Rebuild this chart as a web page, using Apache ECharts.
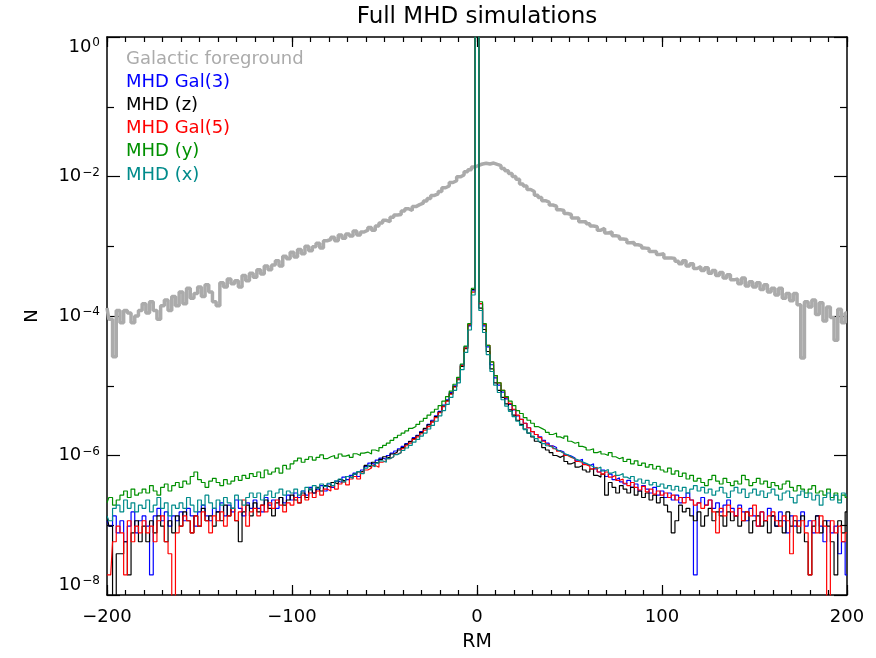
<!DOCTYPE html>
<html><head><meta charset="utf-8">
<script src="https://cdn.jsdelivr.net/npm/echarts@6/dist/echarts.min.js"></script>
<style>html,body{margin:0;padding:0;background:#fff}#c{width:876px;height:658px}</style>
</head><body><div id="c"></div>
<script>
// Histogram bins: centres from -200 to 200, width 2 (RM)
const rmStart = -200, rmStep = 2;

const galactic = [
1.3e-4, 9e-5, 2.6e-5, 1.2e-4, 8e-5, 1.2e-4, 1.1e-4, 8e-5, 1.0e-4, 1.2e-4,
1.5e-4, 1.1e-4, 1.6e-4, 1.2e-4, 9e-5, 1.4e-4, 1.7e-4, 1.2e-4, 1.9e-4, 1.4e-4,
2.2e-4, 1.5e-4, 2.5e-4, 1.8e-4, 2.1e-4, 2.6e-4, 1.9e-4, 2.8e-4, 2.2e-4, 1.6e-4,
1.4e-4, 3.0e-4, 2.6e-4, 3.4e-4, 2.9e-4, 3.2e-4, 2.6e-4, 3.8e-4, 3.2e-4, 4.1e-4,
3.6e-4, 4.6e-4, 4.0e-4, 5.2e-4, 4.6e-4, 5.4e-4, 6.2e-4, 5.2e-4, 7.2e-4, 6.6e-4,
8.2e-4, 7.0e-4, 9.0e-4, 7.8e-4, 1.0e-3, 8.6e-4, 9.8e-4, 1.1e-3, 9.4e-4, 1.2e-3,
1.25e-3, 1.35e-3, 1.2e-3, 1.45e-3, 1.3e-3, 1.5e-3, 1.4e-3, 1.65e-3, 1.45e-3, 1.6e-3,
1.7e-3, 1.85e-3, 1.7e-3, 1.95e-3, 2.15e-3, 2.35e-3, 2.25e-3, 2.6e-3, 2.8e-3, 2.85e-3,
3.2e-3, 3.45e-3, 3.25e-3, 3.7e-3, 3.95e-3, 4.15e-3, 4.45e-3, 4.85e-3, 5.35e-3, 5.65e-3,
6.1e-3, 6.9e-3, 7.3e-3, 8.2e-3, 8.7e-3, 9.9e-3, 1.05e-2, 1.17e-2, 1.25e-2, 1.37e-2,
1.45e-2, 1.51e-2, 1.55e-2, 1.51e-2, 1.56e-2, 1.49e-2, 1.43e-2, 1.3e-2, 1.21e-2, 1.1e-2,
1.0e-2, 9.1e-3, 7.8e-3, 7.3e-3, 6.5e-3, 6.1e-3, 5.4e-3, 5.0e-3, 4.5e-3, 4.3e-3,
3.9e-3, 3.75e-3, 3.35e-3, 3.25e-3, 2.95e-3, 2.85e-3, 2.55e-3, 2.55e-3, 2.25e-3, 2.25e-3,
2.1e-3, 1.95e-3, 1.9e-3, 1.7e-3, 1.8e-3, 1.55e-3, 1.6e-3, 1.42e-3, 1.38e-3, 1.27e-3,
1.25e-3, 1.12e-3, 1.13e-3, 1.05e-3, 1.02e-3, 9.4e-4, 9.3e-4, 8.4e-4, 8.4e-4, 7.6e-4,
7.8e-4, 6.8e-4, 6.8e-4, 6.7e-4, 6.1e-4, 5.6e-4, 6.2e-4, 5.2e-4, 5.6e-4, 4.8e-4,
5.1e-4, 4.5e-4, 4.9e-4, 4.1e-4, 4.5e-4, 3.8e-4, 4.2e-4, 3.5e-4, 3.9e-4, 3.3e-4,
3.4e-4, 2.9e-4, 3.5e-4, 2.7e-4, 3.1e-4, 2.6e-4, 3.0e-4, 2.4e-4, 2.8e-4, 2.2e-4,
2.5e-4, 2.0e-4, 2.5e-4, 1.8e-4, 2.1e-4, 1.65e-4, 2.1e-4, 1.45e-4, 2.5e-5, 1.6e-4,
1.35e-4, 1.7e-4, 1.05e-4, 1.55e-4, 8.5e-5, 1.35e-4, 9.5e-5, 4.5e-5, 1.25e-4, 8.0e-5,
1.1e-4
];

const mhdGal3 = [
1.16e-7, 9.7e-8, 1.36e-7, 7.8e-8, 1.16e-7, 5.8e-8, 9.7e-8, 1.55e-7, 7.8e-8, 1.16e-7,
1.36e-7, 9.7e-8, 1.94e-8, 1.36e-7, 1.75e-7, 1.16e-7, 1.55e-7, 9.7e-8, 1.36e-7, 1.16e-7,
1.55e-7, 1.16e-7, 1.75e-7, 1.36e-7, 9.7e-8, 1.55e-7, 1.94e-7, 1.36e-7, 1.16e-7, 1.75e-7,
1.55e-7, 2.1e-7, 1.36e-7, 1.94e-7, 1.55e-7, 2.3e-7, 1.75e-7, 1.36e-7, 2.1e-7, 1.75e-7,
2.3e-7, 1.75e-7, 1.55e-7, 2.5e-7, 1.94e-7, 2.3e-7, 1.75e-7, 2.5e-7, 2.1e-7, 2.7e-7,
2.3e-7, 2.9e-7, 2.5e-7, 3.1e-7, 2.7e-7, 3.5e-7, 2.9e-7, 3.3e-7, 3.7e-7, 3.1e-7,
3.9e-7, 3.5e-7, 4.3e-7, 4.1e-7, 4.9e-7, 4.5e-7, 5.2e-7, 5.6e-7, 5.0e-7, 6.2e-7,
7.0e-7, 7.8e-7, 7.4e-7, 8.6e-7, 9.2e-7, 8.8e-7, 1.0e-6, 1.08e-6, 1.16e-6, 1.25e-6,
1.35e-6, 1.48e-6, 1.6e-6, 1.8e-6, 1.95e-6, 2.2e-6, 2.4e-6, 2.8e-6, 3.2e-6, 3.7e-6,
4.3e-6, 5.3e-6, 6.3e-6, 8.0e-6, 1.0e-5, 1.28e-5, 2.0e-5, 3.6e-5, 7.2e-5, 2.3e-4,
2, 1.5e-4, 7.2e-5, 3.6e-5, 2.0e-5, 1.3e-5, 1.02e-5, 8.1e-6, 6.5e-6, 5.4e-6,
4.5e-6, 3.7e-6, 3.3e-6, 2.9e-6, 2.5e-6, 2.2e-6, 2.0e-6, 1.85e-6, 1.65e-6, 1.5e-6,
1.38e-6, 1.3e-6, 1.18e-6, 1.12e-6, 1.02e-6, 9.8e-7, 9.2e-7, 8.4e-7, 8.8e-7, 7.6e-7,
7.2e-7, 7.6e-7, 6.4e-7, 5.8e-7, 6.2e-7, 5.0e-7, 5.4e-7, 4.5e-7, 4.8e-7, 4.2e-7,
3.9e-7, 4.4e-7, 3.5e-7, 3.9e-7, 3.1e-7, 3.7e-7, 3.3e-7, 2.9e-7, 3.5e-7, 2.7e-7,
3.1e-7, 2.5e-7, 2.9e-7, 2.3e-7, 2.7e-7, 2.1e-7, 2.5e-7, 2.9e-7, 2.3e-7, 1.94e-8,
2.1e-7, 2.5e-7, 1.94e-7, 2.3e-7, 1.75e-7, 2.1e-7, 1.55e-7, 1.94e-7, 2.3e-7, 1.75e-7,
1.36e-7, 1.94e-7, 1.55e-7, 1.16e-7, 1.75e-7, 1.36e-7, 9.7e-8, 1.55e-7, 1.16e-7, 1.75e-7,
1.36e-7, 9.7e-8, 1.55e-7, 1.16e-7, 7.8e-8, 1.36e-7, 9.7e-8, 1.16e-7, 1.55e-7, 9.7e-8,
1.16e-7, 7.8e-8, 1.36e-7, 9.7e-8, 5.8e-8, 1.16e-7, 7.8e-8, 9.7e-8, 3.9e-8, 5.8e-8,
1.94e-8
];

// 1e-9 marks empty bins (drawn down through the bottom of the frame)
const mhdZ = [
1.36e-7, 9.7e-8, 1e-9, 3.9e-8, 3.9e-8, 5.8e-8, 1.94e-8, 7.8e-8, 1.16e-7, 5.8e-8,
9.7e-8, 5.8e-8, 1.16e-7, 7.8e-8, 1.36e-7, 9.7e-8, 5.8e-8, 1.16e-7, 7.8e-8, 1.36e-7,
9.7e-8, 1.55e-7, 1.16e-7, 7.8e-8, 1.36e-7, 9.7e-8, 1.75e-7, 1.16e-7, 1.36e-7, 9.7e-8,
1.55e-7, 1.16e-7, 1.94e-7, 1.36e-7, 1.75e-7, 1.16e-7, 5.8e-8, 1.55e-7, 1.94e-7, 1.36e-7,
2.1e-7, 1.55e-7, 1.94e-7, 2.3e-7, 1.75e-7, 1.36e-7, 2.1e-7, 2.5e-7, 1.94e-7, 2.3e-7,
2.7e-7, 2.3e-7, 2.1e-7, 2.9e-7, 2.5e-7, 3.3e-7, 2.9e-7, 3.5e-7, 3.1e-7, 3.7e-7,
3.5e-7, 4.1e-7, 3.9e-7, 4.5e-7, 4.3e-7, 5.0e-7, 4.8e-7, 5.4e-7, 5.8e-7, 6.0e-7,
7.2e-7, 6.8e-7, 8.0e-7, 7.8e-7, 8.8e-7, 9.6e-7, 9.2e-7, 1.05e-6, 1.12e-6, 1.2e-6,
1.3e-6, 1.45e-6, 1.58e-6, 1.75e-6, 1.92e-6, 2.15e-6, 2.45e-6, 2.75e-6, 3.1e-6, 3.6e-6,
4.2e-6, 5.1e-6, 6.1e-6, 7.7e-6, 9.7e-6, 1.22e-5, 1.9e-5, 3.4e-5, 7.5e-5, 2.4e-4,
2, 1.3e-4, 6.4e-5, 3.1e-5, 1.75e-5, 1.1e-5, 8.6e-6, 6.8e-6, 5.5e-6, 4.5e-6,
3.8e-6, 3.2e-6, 2.8e-6, 2.4e-6, 2.1e-6, 1.85e-6, 1.6e-6, 1.5e-6, 1.3e-6, 1.2e-6,
1.1e-6, 1.0e-6, 9.4e-7, 1.0e-6, 8.2e-7, 7.6e-7, 8.0e-7, 6.8e-7, 7.2e-7, 6.2e-7,
5.8e-7, 6.4e-7, 5.2e-7, 4.9e-7, 5.4e-7, 2.7e-7, 4.1e-7, 3.5e-7, 2.9e-7, 3.7e-7,
3.3e-7, 2.9e-7, 3.5e-7, 2.7e-7, 3.1e-7, 2.5e-7, 2.9e-7, 2.3e-7, 2.7e-7, 2.1e-7,
2.5e-7, 1.94e-7, 1.55e-7, 7.8e-8, 1.16e-7, 1.94e-7, 1.55e-7, 1.75e-7, 1.36e-7, 1.16e-7,
1.55e-7, 9.7e-8, 1.36e-7, 1.75e-7, 1.16e-7, 1.55e-7, 1.36e-7, 9.7e-8, 1.55e-7, 1.16e-7,
1.36e-7, 9.7e-8, 1.16e-7, 1.55e-7, 7.8e-8, 1.16e-7, 1.36e-7, 9.7e-8, 1.16e-7, 7.8e-8,
1.36e-7, 9.7e-8, 1.16e-7, 7.8e-8, 1.55e-7, 9.7e-8, 1.16e-7, 7.8e-8, 1.36e-7, 5.8e-8,
1.94e-8, 9.7e-8, 1.36e-7, 7.8e-8, 1.16e-7, 9.7e-8, 5.8e-8, 1.94e-8, 1.16e-7, 7.8e-8,
1.55e-7
];

const mhdGal5 = [
1.94e-8, 1.94e-8, 5.8e-8, 9.7e-8, 7.8e-8, 1.94e-8, 1.16e-7, 5.8e-8, 9.7e-8, 7.8e-8,
1.16e-7, 7.8e-8, 9.7e-8, 5.8e-8, 1.16e-7, 1.36e-7, 5.8e-8, 3.9e-8, 1e-9, 7.8e-8,
9.7e-8, 1.36e-7, 1.16e-7, 7.8e-8, 1.36e-7, 9.7e-8, 1.55e-7, 1.16e-7, 7.8e-8, 1.36e-7,
1.16e-7, 1.55e-7, 9.7e-8, 1.36e-7, 1.75e-7, 1.16e-7, 1.55e-7, 2.3e-7, 9.7e-8, 1.55e-7,
1.75e-7, 1.36e-7, 1.94e-7, 1.55e-7, 2.1e-7, 1.75e-7, 2.3e-7, 1.94e-7, 1.55e-7, 2.1e-7,
1.94e-7, 2.5e-7, 2.1e-7, 2.7e-7, 2.3e-7, 2.9e-7, 2.5e-7, 3.1e-7, 2.7e-7, 3.3e-7,
3.1e-7, 3.7e-7, 3.3e-7, 3.9e-7, 4.2e-7, 3.8e-7, 4.6e-7, 5.0e-7, 4.6e-7, 5.6e-7,
6.2e-7, 6.6e-7, 7.2e-7, 6.8e-7, 8.0e-7, 8.4e-7, 9.0e-7, 9.6e-7, 1.04e-6, 1.1e-6,
1.25e-6, 1.38e-6, 1.5e-6, 1.7e-6, 1.85e-6, 2.05e-6, 2.3e-6, 2.6e-6, 3.0e-6, 3.5e-6,
4.1e-6, 5.0e-6, 6.0e-6, 7.6e-6, 9.6e-6, 1.25e-5, 1.95e-5, 3.5e-5, 7.5e-5, 2.2e-4,
2, 1.5e-4, 7.6e-5, 3.8e-5, 2.2e-5, 1.4e-5, 1.1e-5, 8.6e-6, 6.8e-6, 5.6e-6,
4.6e-6, 3.8e-6, 3.3e-6, 2.9e-6, 2.5e-6, 2.2e-6, 2.0e-6, 1.8e-6, 1.6e-6, 1.45e-6,
1.35e-6, 1.25e-6, 1.15e-6, 1.08e-6, 1.0e-6, 9.4e-7, 9.0e-7, 8.2e-7, 8.0e-7, 7.4e-7,
7.0e-7, 6.4e-7, 6.8e-7, 5.8e-7, 5.4e-7, 5.8e-7, 4.9e-7, 5.2e-7, 4.4e-7, 4.6e-7,
4.0e-7, 3.7e-7, 4.1e-7, 3.5e-7, 3.2e-7, 3.6e-7, 3.0e-7, 3.3e-7, 2.8e-7, 3.1e-7,
2.7e-7, 2.9e-7, 2.5e-7, 2.7e-7, 2.3e-7, 2.5e-7, 2.1e-7, 2.5e-7, 2.3e-7, 1.94e-7,
2.1e-7, 1.75e-7, 1.94e-7, 2.3e-7, 1.55e-7, 7.8e-8, 1.75e-7, 1.36e-7, 1.94e-7, 1.55e-7,
1.36e-7, 1.75e-7, 1.16e-7, 1.55e-7, 1.36e-7, 1.94e-7, 9.7e-8, 1.55e-7, 1.16e-7, 1.36e-7,
1.55e-7, 1.16e-7, 9.7e-8, 1.36e-7, 1.16e-7, 3.9e-8, 1.36e-7, 9.7e-8, 1.16e-7, 7.8e-8,
1.94e-8, 1.16e-7, 7.8e-8, 1.36e-7, 9.7e-8, 1e-9, 1.16e-7, 7.8e-8, 9.7e-8, 5.8e-8,
7.8e-8
];

const mhdY = [
2.1e-7, 2.5e-7, 1.94e-7, 2.3e-7, 2.7e-7, 3.1e-7, 2.5e-7, 3.3e-7, 2.7e-7, 2.9e-7,
3.3e-7, 2.9e-7, 3.7e-7, 3.1e-7, 2.7e-7, 3.5e-7, 3.9e-7, 3.1e-7, 3.7e-7, 4.1e-7,
3.5e-7, 4.3e-7, 3.9e-7, 5.0e-7, 5.8e-7, 4.5e-7, 4.1e-7, 3.5e-7, 4.3e-7, 4.7e-7,
4.1e-7, 3.7e-7, 4.5e-7, 3.9e-7, 4.3e-7, 5.0e-7, 4.4e-7, 5.2e-7, 4.7e-7, 5.5e-7,
5.0e-7, 5.8e-7, 4.8e-7, 6.2e-7, 5.4e-7, 5.8e-7, 6.6e-7, 5.6e-7, 7.2e-7, 6.4e-7,
7.6e-7, 8.4e-7, 9.2e-7, 8.0e-7, 8.8e-7, 9.6e-7, 8.6e-7, 9.4e-7, 1.02e-6, 9.0e-7,
9.6e-7, 1.0e-6, 9.2e-7, 1.05e-6, 9.8e-7, 1.02e-6, 9.4e-7, 1.06e-6, 1.0e-6, 1.08e-6,
1.12e-6, 1.05e-6, 1.2e-6, 1.15e-6, 1.3e-6, 1.4e-6, 1.5e-6, 1.65e-6, 1.8e-6, 1.95e-6,
2.1e-6, 2.25e-6, 2.45e-6, 2.6e-6, 2.8e-6, 3.1e-6, 3.4e-6, 3.8e-6, 4.2e-6, 4.6e-6,
5.2e-6, 6.0e-6, 7.0e-6, 8.4e-6, 1.05e-5, 1.32e-5, 2.05e-5, 3.7e-5, 7.8e-5, 2.5e-4,
2, 1.6e-4, 7.8e-5, 3.8e-5, 2.2e-5, 1.4e-5, 1.1e-5, 8.6e-6, 7.0e-6, 6.0e-6,
5.2e-6, 4.4e-6, 4.0e-6, 3.5e-6, 3.2e-6, 2.9e-6, 2.6e-6, 2.45e-6, 2.3e-6, 2.15e-6,
2.0e-6, 2.1e-6, 1.85e-6, 1.75e-6, 1.9e-6, 1.6e-6, 1.5e-6, 1.55e-6, 1.35e-6, 1.3e-6,
1.2e-6, 1.25e-6, 1.1e-6, 1.15e-6, 1.05e-6, 1.0e-6, 1.1e-6, 9.6e-7, 9.0e-7, 9.4e-7,
8.2e-7, 8.8e-7, 7.6e-7, 8.4e-7, 7.2e-7, 7.8e-7, 6.8e-7, 7.4e-7, 6.4e-7, 7.0e-7,
6.2e-7, 5.8e-7, 6.6e-7, 5.4e-7, 6.0e-7, 5.0e-7, 5.6e-7, 4.6e-7, 5.2e-7, 4.3e-7,
4.7e-7, 4.1e-7, 3.7e-7, 4.5e-7, 5.2e-7, 4.3e-7, 3.9e-7, 4.7e-7, 4.1e-7, 3.7e-7,
4.3e-7, 3.9e-7, 5.2e-7, 4.5e-7, 3.7e-7, 4.1e-7, 4.7e-7, 3.9e-7, 4.3e-7, 3.5e-7,
4.1e-7, 3.7e-7, 3.3e-7, 3.9e-7, 4.3e-7, 3.5e-7, 3.1e-7, 3.7e-7, 3.3e-7, 2.9e-7,
3.3e-7, 3.7e-7, 2.9e-7, 3.1e-7, 2.7e-7, 3.3e-7, 2.5e-7, 2.9e-7, 2.3e-7, 2.7e-7,
2.5e-7
];

const mhdX = [
1.36e-7, 1.16e-7, 1.75e-7, 1.94e-7, 1.55e-7, 2.3e-7, 1.75e-7, 2.1e-7, 1.55e-7, 1.94e-7,
1.75e-7, 2.3e-7, 1.55e-7, 1.94e-7, 2.5e-7, 1.75e-7, 2.1e-7, 1.36e-7, 1.94e-7, 1.75e-7,
2.1e-7, 1.75e-7, 2.5e-7, 1.94e-7, 1.55e-7, 2.3e-7, 1.94e-7, 2.7e-7, 2.1e-7, 1.75e-7,
2.3e-7, 1.94e-7, 2.5e-7, 2.1e-7, 1.75e-7, 2.7e-7, 2.3e-7, 1.94e-7, 2.5e-7, 2.9e-7,
2.5e-7, 2.9e-7, 2.3e-7, 2.7e-7, 3.1e-7, 2.5e-7, 2.9e-7, 3.3e-7, 2.7e-7, 3.1e-7,
2.9e-7, 3.3e-7, 2.7e-7, 3.1e-7, 3.5e-7, 3.2e-7, 3.7e-7, 3.4e-7, 3.9e-7, 3.6e-7,
4.0e-7, 3.7e-7, 4.3e-7, 4.6e-7, 4.2e-7, 5.0e-7, 4.7e-7, 5.4e-7, 5.9e-7, 5.5e-7,
6.6e-7, 7.2e-7, 6.9e-7, 7.8e-7, 8.4e-7, 8.0e-7, 9.0e-7, 9.6e-7, 1.03e-6, 1.1e-6,
1.18e-6, 1.28e-6, 1.4e-6, 1.55e-6, 1.7e-6, 1.9e-6, 2.1e-6, 2.4e-6, 2.7e-6, 3.1e-6,
3.7e-6, 4.4e-6, 5.4e-6, 6.8e-6, 8.6e-6, 1.1e-5, 1.7e-5, 3.0e-5, 6.3e-5, 2.0e-4,
2, 1.2e-4, 5.8e-5, 2.8e-5, 1.6e-5, 1.02e-5, 8.0e-6, 6.3e-6, 5.1e-6, 4.3e-6,
3.6e-6, 3.1e-6, 2.7e-6, 2.35e-6, 2.1e-6, 1.9e-6, 1.75e-6, 1.6e-6, 1.48e-6, 1.38e-6,
1.3e-6, 1.22e-6, 1.15e-6, 1.08e-6, 1.02e-6, 9.6e-7, 9.0e-7, 8.6e-7, 8.1e-7, 7.7e-7,
7.3e-7, 6.9e-7, 6.5e-7, 6.8e-7, 6.0e-7, 6.3e-7, 5.6e-7, 5.9e-7, 5.2e-7, 5.5e-7,
4.9e-7, 4.6e-7, 5.0e-7, 4.3e-7, 4.6e-7, 4.0e-7, 4.4e-7, 3.8e-7, 4.1e-7, 3.6e-7,
3.9e-7, 3.4e-7, 3.7e-7, 3.2e-7, 3.6e-7, 3.1e-7, 3.5e-7, 2.9e-7, 3.3e-7, 3.7e-7,
3.1e-7, 3.5e-7, 2.9e-7, 3.3e-7, 2.7e-7, 3.1e-7, 3.5e-7, 2.9e-7, 2.5e-7, 3.1e-7,
3.5e-7, 2.9e-7, 3.3e-7, 2.5e-7, 2.9e-7, 3.3e-7, 2.7e-7, 3.1e-7, 2.5e-7, 2.9e-7,
3.3e-7, 2.7e-7, 2.3e-7, 2.9e-7, 3.1e-7, 2.5e-7, 2.1e-7, 2.7e-7, 3.1e-7, 2.5e-7,
2.9e-7, 2.3e-7, 2.7e-7, 1.94e-7, 2.5e-7, 2.9e-7, 2.3e-7, 2.7e-7, 2.1e-7, 2.9e-7,
2.7e-7
];

const seriesNames = ['Galactic foreground', 'MHD Gal(3)', 'MHD (z)', 'MHD Gal(5)', 'MHD (y)', 'MHD (x)'];
const seriesData = [galactic, mhdGal3, mhdZ, mhdGal5, mhdY, mhdX];
const seriesColors = ['#ababab', '#0000ff', '#000000', '#ff0000', '#009000', '#008b8b'];
const seriesWidths = [3.5, 1.2, 1.2, 1.2, 1.2, 1.2];

const titleText = 'Full MHD simulations';
const xName = 'RM', yName = 'N';
const xMajorStep = 100, xMinorStep = 10;
const yMajor = [1e-8, 1e-6, 1e-4, 1e-2, 1];
const yMajorExp = ['\u22128', '\u22126', '\u22124', '\u22122', '0'];
const yMinor = [1e-7, 1e-5, 1e-3, 1e-1];

const FONT = '"DejaVu Sans", sans-serif';
const L = 107, R = 29, T = 37, B = 63, W = 876, H = 658;
const TICK_STYLE = { color: '#000', width: 1.2 };

function toPairs(arr) { return arr.map((v, i) => [rmStart + i * rmStep, v]); }

function yLabel(v) {
  const i = yMajor.findIndex(t => Math.abs(Math.log10(t) - Math.log10(v)) < 1e-6);
  return i < 0 ? '' : '{b|10}{s|' + yMajorExp[i] + '}';
}

const grids = [], xAxes = [], yAxes = [];
function addGrid(box) { grids.push(Object.assign({ outerBoundsMode: 'none', containLabel: false }, box)); return grids.length - 1; }

// grid 0: data
const gData = addGrid({ left: L, right: R, top: T, bottom: B });
xAxes.push({ gridIndex: gData, type: 'value', min: -200, max: 200, show: false });
yAxes.push({ gridIndex: gData, type: 'log', logBase: 10, min: 1e-8, max: 1, show: false });

// grid 1: frame, labels and titles
const gFrame = addGrid({ left: L, right: R, top: T, bottom: B });
function frameX(pos, showLabel) {
  return {
    gridIndex: gFrame, type: 'value', min: -200, max: 200, interval: xMajorStep, position: pos,
    axisLine: { show: true, onZero: false, lineStyle: { color: '#000', width: 1.5 } },
    axisTick: { show: false }, splitLine: { show: false },
    axisLabel: { show: showLabel, margin: 13, fontSize: 18, color: '#000', fontFamily: FONT,
      formatter: v => String(v).replace('-', '\u2212') },
    name: showLabel ? xName : '', nameLocation: 'middle', nameGap: 38,
    nameTextStyle: { fontSize: 19, color: '#000', fontFamily: FONT }
  };
}
function frameY(pos, showLabel) {
  return {
    gridIndex: gFrame, type: 'log', logBase: 10, min: 1e-8, max: 1, position: pos,
    axisLine: { show: true, onZero: false, lineStyle: { color: '#000', width: 1.5 } },
    axisTick: { show: false, customValues: yMajor }, splitLine: { show: false },
    axisLabel: showLabel ? {
      show: true, customValues: yMajor, margin: 7, formatter: yLabel,
      verticalAlignMinLabel: 'bottom', verticalAlignMaxLabel: 'top',
      rich: {
        b: { fontSize: 18, fontFamily: FONT, color: '#000', lineHeight: 20 },
        s: { fontSize: 12, fontFamily: FONT, color: '#000', verticalAlign: 'top', lineHeight: 12, padding: [0, 0, 0, 1] }
      }
    } : { show: false },
    name: showLabel ? yName : '', nameLocation: 'middle', nameGap: 66, nameRotate: 90,
    nameTextStyle: { fontSize: 18, color: '#000', fontFamily: FONT }
  };
}
xAxes.push(frameX('bottom', true), frameX('top', false));
yAxes.push(frameY('left', true), frameY('right', false));

// Inward tick marks: thin strips along each side whose axis split lines act as ticks
function xTickStrip(top, len, step) {
  const g = addGrid({ left: L, right: R, top: top, height: len });
  xAxes.push({ gridIndex: g, type: 'value', min: -200, max: 200, interval: step,
    axisLine: { show: false }, axisTick: { show: false }, axisLabel: { show: false },
    splitLine: { show: true, lineStyle: TICK_STYLE } });
  yAxes.push({ gridIndex: g, type: 'value', min: 0, max: 1, show: false, splitLine: { show: false } });
}
function yTickStrip(left, len, values) {
  const g = addGrid({ left: left, width: len, top: T, bottom: B });
  xAxes.push({ gridIndex: g, type: 'value', min: 0, max: 1, show: false, splitLine: { show: false } });
  yAxes.push({ gridIndex: g, type: 'log', logBase: 10, min: 1e-8, max: 1,
    axisLine: { show: false }, axisTick: { show: false, customValues: values }, axisLabel: { show: false },
    splitLine: { show: true, lineStyle: TICK_STYLE } });
}
xTickStrip(H - B - 10, 10, xMajorStep);
xTickStrip(H - B - 5, 5, xMinorStep);
xTickStrip(T, 10, xMajorStep);
xTickStrip(T, 5, xMinorStep);
yTickStrip(L, 13, yMajor);
yTickStrip(L, 7, yMinor);
yTickStrip(W - R - 13, 13, yMajor);
yTickStrip(W - R - 7, 7, yMinor);

const series = seriesData.map((arr, k) => ({
  name: seriesNames[k], type: 'line', step: 'middle', xAxisIndex: 0, yAxisIndex: 0,
  data: toPairs(arr), showSymbol: false, symbol: 'none', clip: true,
  lineStyle: { color: seriesColors[k], width: seriesWidths[k] },
  itemStyle: { color: seriesColors[k] }
}));

const graphics = [{
  type: 'text', x: 477, y: 17,
  style: { text: titleText, fill: '#000', font: '23px ' + FONT, align: 'center', verticalAlign: 'middle' }
}].concat(seriesNames.map((n, k) => ({
  type: 'text', x: 126, y: 59 + 23.2 * k,
  style: { text: n, fill: seriesColors[k], font: '18px ' + FONT, align: 'left', verticalAlign: 'middle' }
})));

const chart = echarts.init(document.getElementById('c'));
chart.setOption({
  animation: false,
  grid: grids, xAxis: xAxes, yAxis: yAxes,
  series: series,
  graphic: graphics
});
</script>
</body></html>
